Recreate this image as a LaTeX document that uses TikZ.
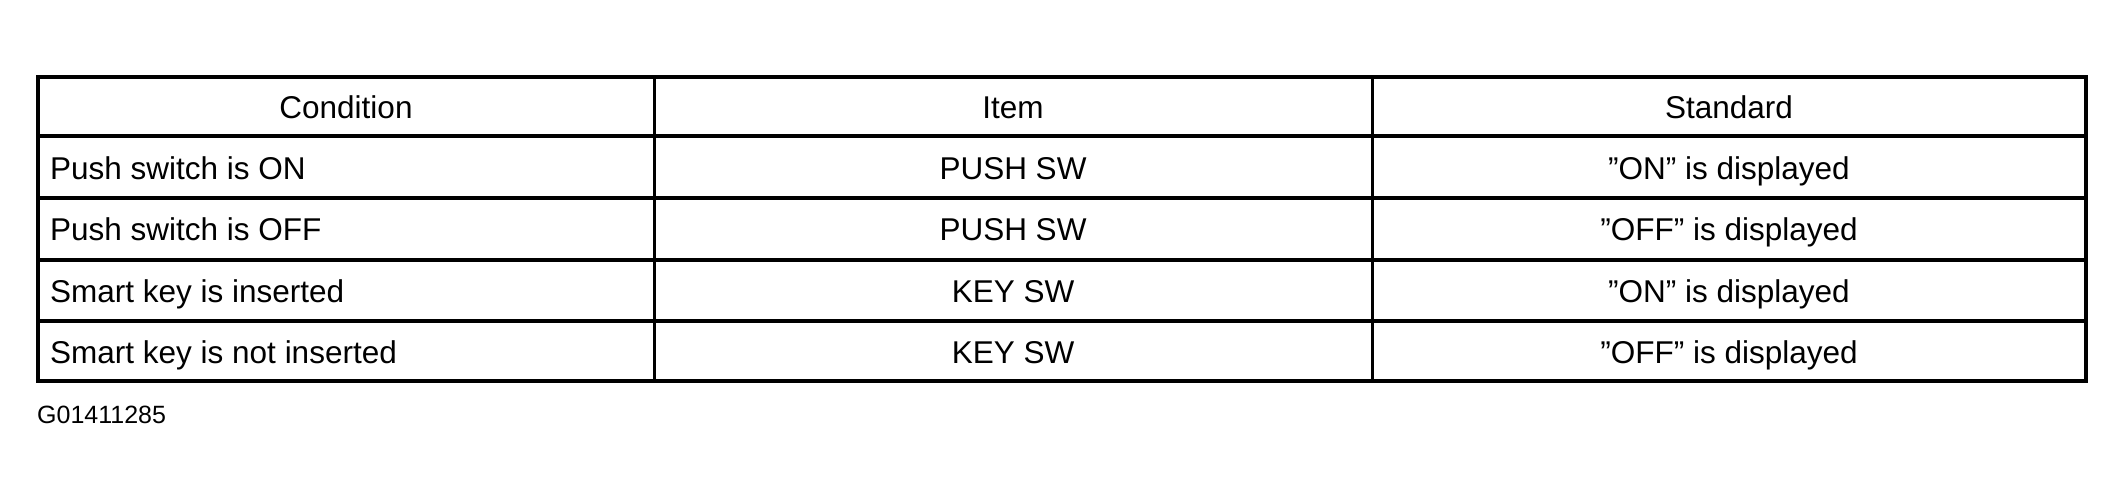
\documentclass[tikz,border=0pt]{standalone}
\usepackage{fontspec}
\setmainfont{Liberation Sans}
\begin{document}
\begin{tikzpicture}[x=1pt,y=-1pt,
  cell/.style={inner sep=0pt,font=\fontsize{31.5}{36}\selectfont},
  lbl/.style={inner sep=0pt,font=\fontsize{25}{30}\selectfont},
  outer/.style={line width=4pt},
  inner/.style={line width=3.4pt},
  vinner/.style={line width=3pt}]
\useasboundingbox (0,0) rectangle (2124,500);
% grid lines
\foreach \yy in {136,198,260,321} \draw[inner] (38,\yy) -- (2086,\yy);
\draw[vinner] (654,77) -- (654,381);
\draw[vinner] (1372,77) -- (1372,381);
\draw[outer] (38,77) rectangle (2086,381);
% header
\node[cell,anchor=base] (h1) at (346,118) {Condition};
\node[cell,anchor=base] (h2) at (1013,118) {Item};
\node[cell,anchor=base] (h3) at (1729,118) {Standard};
% rows
\node[cell,anchor=base west] (c1) at (50,179) {Push switch is ON};
\node[cell,anchor=base] (i1) at (1013,179) {PUSH SW};
\node[cell,anchor=base] (s1) at (1729,179) {”ON” is displayed};
\node[cell,anchor=base west] (c2) at (50,240) {Push switch is OFF};
\node[cell,anchor=base] (i2) at (1013,240) {PUSH SW};
\node[cell,anchor=base] (s2) at (1729,240) {”OFF” is displayed};
\node[cell,anchor=base west] (c3) at (50,302) {Smart key is inserted};
\node[cell,anchor=base] (i3) at (1013,302) {KEY SW};
\node[cell,anchor=base] (s3) at (1729,302) {”ON” is displayed};
\node[cell,anchor=base west] (c4) at (50,363) {Smart key is not inserted};
\node[cell,anchor=base] (i4) at (1013,363) {KEY SW};
\node[cell,anchor=base] (s4) at (1729,363) {”OFF” is displayed};
% figure code
\node[lbl,anchor=base west] (code) at (37,423) {G01411285};
\end{tikzpicture}
\end{document}
